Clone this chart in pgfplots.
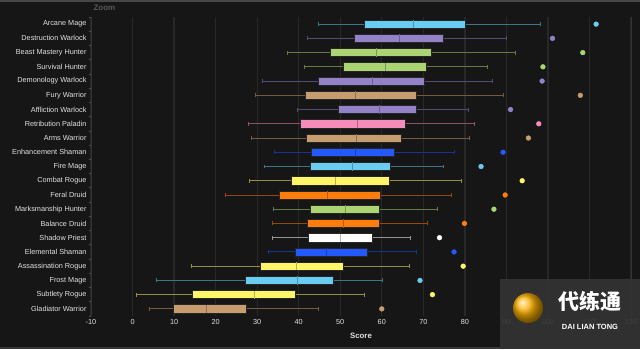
\documentclass[border=0pt]{standalone}
\usepackage{fontspec}
\setmainfont{Liberation Sans}
\newfontfamily\cjk{Noto Sans CJK SC}
\usepackage{pgfplots}
\usepackage{pgfplotstable}
\pgfplotsset{compat=1.18}
\usepgfplotslibrary{statistics}
\definecolor{bgc}{HTML}{161616}
\definecolor{gridc}{HTML}{282828}
\definecolor{txtc}{HTML}{E2E2E2}
\definecolor{magec}{HTML}{69CCF0}
\definecolor{lockc}{HTML}{9482C9}
\definecolor{huntc}{HTML}{ABD473}
\definecolor{warc}{HTML}{C79C6E}
\definecolor{palc}{HTML}{F58CBA}
\definecolor{shamc}{HTML}{2459FF}
\definecolor{roguec}{HTML}{FFF569}
\definecolor{druidc}{HTML}{FF7D0A}
\definecolor{priestc}{HTML}{FFFFFF}

% lw lq med uq uw = whiskers and quartiles; out = outlier; pos = row position
\pgfplotstableread{
spec  pos lw   lq   med  uq   uw   out   cls
ArcM  21  44.7 55.7 67.7 80.0 98.1 111.6 mage
DesW  20  42.2 53.3 64.2 74.8 90.0 101.1 lock
BMH   19  37.2 47.7 58.7 72.0 92.3 108.4 hunt
SurH  18  41.4 50.8 61.0 70.8 85.5 98.8  hunt
DemW  17  31.3 44.7 57.7 70.2 86.7 98.6  lock
FurW  16  29.6 41.5 53.6 68.3 89.2 107.8 war
AffW  15  39.8 49.6 59.4 68.3 80.8 91.0  lock
RetP  14  27.9 40.3 54.1 65.7 82.2 97.8  pal
ArmW  13  28.7 41.9 53.8 64.7 81.0 95.3  war
EnhS  12  34.1 43.1 53.6 63.1 77.4 89.2  sham
FirM  11  31.8 42.7 53.0 62.1 74.8 83.9  mage
ComR  10  28.2 38.1 48.8 61.8 79.3 93.8  rogue
FerD  9   22.4 35.3 46.9 59.7 76.7 89.7  druid
MMH   8   33.9 42.8 51.2 59.4 73.4 87.0  hunt
BalD  7   33.7 42.1 50.8 59.3 71.1 79.9  druid
ShaP  6   33.7 42.2 50.0 57.6 67.0 73.9  priest
EleS  5   32.7 39.3 46.8 56.5 68.4 77.4  sham
AssR  4   14.1 30.7 39.4 50.7 66.7 79.6  rogue
FroM  3   5.8  27.1 39.7 48.4 60.2 69.2  mage
SubR  2   1.0  14.5 29.4 39.1 55.9 72.2  rogue
GlaW  1   4.0  9.9  17.7 27.3 44.8 60.0  war
}\data

\newcommand\bx[3]{%
\pgfplotstablegetelem{#1}{lw}\of\data\let\vlw\pgfplotsretval
\pgfplotstablegetelem{#1}{lq}\of\data\let\vlq\pgfplotsretval
\pgfplotstablegetelem{#1}{med}\of\data\let\vmed\pgfplotsretval
\pgfplotstablegetelem{#1}{uq}\of\data\let\vuq\pgfplotsretval
\pgfplotstablegetelem{#1}{uw}\of\data\let\vuw\pgfplotsretval
\pgfplotstablegetelem{#1}{pos}\of\data\let\vpos\pgfplotsretval
\edef\tmpplot{\noexpand\addplot[boxplot prepared={draw direction=x, draw position=\vpos,
    lower whisker=\vlw, lower quartile=\vlq, median=\vmed,
    upper quartile=\vuq, upper whisker=\vuw,
    box extend=0.58, whisker extend=0.28,
    every box/.style={fill=#3, draw=black!85, line width=0.6pt},
    every whisker/.style={draw=#3!58!black, line width=0.9pt},
    every median/.style={draw=#3!72!black, line width=0.9pt}}]
  coordinates {};}\tmpplot}

\begin{document}
\begin{tikzpicture}
\fill[bgc] (0,0) rectangle (640pt,349pt);
\useasboundingbox (0,0) rectangle (640pt,349pt);
\draw[color=black!72, line width=1.2pt] (0,348pt) -- (640pt,348pt);
\draw[color=black!78, line width=1.5pt] (0,0.8pt) -- (640pt,0.8pt);
\node[anchor=west, text=black!65, font=\bfseries\fontsize{8}{9}\selectfont] at (90pt,341pt) {Zoom};
\begin{axis}[
  at={(91pt,33pt)}, anchor=south west,
  scale only axis, width=540pt, height=299pt,
  xmin=-10, xmax=120, ymin=0.5, ymax=21.5,
  xtick={-10,0,...,120},
  ytick={1,...,21},
  yticklabels={Gladiator Warrior, Subtlety Rogue, Frost Mage, Assassination Rogue, Elemental Shaman, Shadow Priest, Balance Druid, Marksmanship Hunter, Feral Druid, Combat Rogue, Fire Mage, Enhancement Shaman, Arms Warrior, Retribution Paladin, Affliction Warlock, Fury Warrior, Demonology Warlock, Survival Hunter, Beast Mastery Hunter, Destruction Warlock, Arcane Mage},
  minor ytick={0.5,1.5,...,21.5},
  tick pos=left,
  major tick length=0pt, minor tick length=2.5pt, tick align=outside,
  minor y tick style={draw=black!70, line width=0.8pt},
  separate axis lines,
  x axis line style={draw=none},
  y axis line style={draw=black!80, line width=0.8pt},
  xmajorgrids, major x grid style={draw=gridc, line width=1.3pt},
  /pgf/number format/assume math mode=true,
  ticklabel style={text=txtc, font=\fontsize{7.3}{8}\selectfont},
  yticklabel style={xshift=-1pt},
  xticklabel style={yshift=0pt},
  xlabel={Score},
  xlabel style={text=txtc, font=\bfseries\fontsize{7.8}{9}\selectfont, yshift=-1pt},
  clip=false,
]
\bx{0}{21}{magec}
\bx{1}{20}{lockc}
\bx{2}{19}{huntc}
\bx{3}{18}{huntc}
\bx{4}{17}{lockc}
\bx{5}{16}{warc}
\bx{6}{15}{lockc}
\bx{7}{14}{palc}
\bx{8}{13}{warc}
\bx{9}{12}{shamc}
\bx{10}{11}{magec}
\bx{11}{10}{roguec}
\bx{12}{9}{druidc}
\bx{13}{8}{huntc}
\bx{14}{7}{druidc}
\bx{15}{6}{priestc}
\bx{16}{5}{shamc}
\bx{17}{4}{roguec}
\bx{18}{3}{magec}
\bx{19}{2}{roguec}
\bx{20}{1}{warc}
\addplot[scatter, only marks, mark=*, mark size=2.4pt,
  point meta=explicit symbolic,
  scatter/classes={
    mage={fill=magec, draw=magec},
    lock={fill=lockc, draw=lockc},
    hunt={fill=huntc, draw=huntc},
    war={fill=warc, draw=warc},
    pal={fill=palc, draw=palc},
    sham={fill=shamc, draw=shamc},
    rogue={fill=roguec, draw=roguec},
    druid={fill=druidc, draw=druidc},
    priest={fill=priestc, draw=priestc}}]
  table[x=out, y=pos, meta=cls] {\data};
\end{axis}
% watermark overlay
\fill[black!80, opacity=0.93] (500pt,0) rectangle (640pt,70pt);
\shade[ball color=orange!60!yellow] (528pt,41pt) circle (15pt);
\node[text=white, font=\cjk\bfseries\fontsize{21}{22}\selectfont] at (590pt,48pt) {代练通};
\node[text=white, font=\bfseries\fontsize{7.5}{8}\selectfont] at (590pt,22pt) {DAI LIAN TONG};
\end{tikzpicture}
\end{document}
